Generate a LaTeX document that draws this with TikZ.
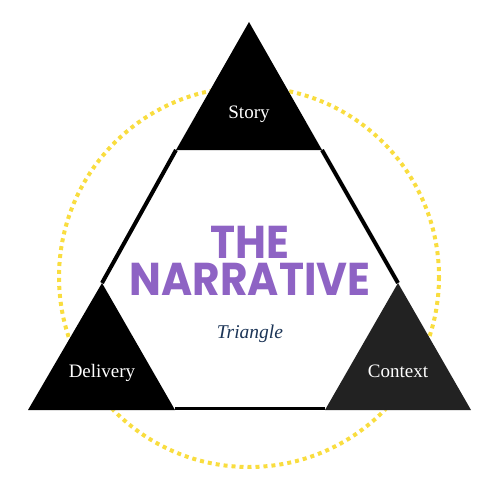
\documentclass[tikz,border=0pt]{standalone}
\usepackage{fontspec}
\setmainfont{Liberation Serif}
\newfontfamily\popfont{Poppins}
\definecolor{dotyellow}{HTML}{F9DD3F}
\definecolor{titlepurple}{HTML}{8E63C4}
\definecolor{navy}{HTML}{1C3557}
\definecolor{darkgray}{HTML}{222222}
\begin{document}
\begin{tikzpicture}[x=1pt,y=-1pt,
  cornerlabel/.style={text=white,font=\fontsize{19}{19}\selectfont,anchor=base,inner sep=0pt},
  titletext/.style={text=titlepurple,font=\popfont\bfseries\fontsize{46}{46}\selectfont,anchor=base,inner sep=0pt,text height=31pt,text depth=0pt}]
\useasboundingbox (0,0) rectangle (500,500);
% dotted circle
\draw[dotyellow,line width=4pt,dash pattern=on 4pt off 4pt] (249,277) circle[radius=190];
% big triangle
\coordinate (T) at (249,22);
\coordinate (L) at (28,410);
\coordinate (R) at (471,410);
\fill[white] (T) -- (L) -- (R) -- cycle;
\draw[line width=4pt] (176,150) -- (102,283);
\draw[line width=4pt] (322,150) -- (398,283);
\draw[line width=3.5pt] (175,408.5) -- (325,408.5);
% corner triangles
\fill[black] (T) -- (176,150) -- (322,150) -- cycle;
\fill[black] (102,283) -- (L) -- (175,410) -- cycle;
\fill[darkgray] (398,283) -- (325,410) -- (R) -- cycle;
% labels
\node[cornerlabel] (story) at (249,118) {Story};
\node[cornerlabel] (delivery) at (102,377) {Delivery};
\node[cornerlabel] (context) at (398,377) {Context};
\node[titletext] (the) at (250,258) {\scalebox{0.92}[1]{THE}};
\node[titletext] (narr) at (250,295) {\scalebox{0.92}[1]{NARRATIVE}};
\node[text=navy,font=\itshape\fontsize{19.5}{19.5}\selectfont,anchor=base,inner sep=0pt] (tri) at (250,338) {Triangle};
\end{tikzpicture}
\end{document}
